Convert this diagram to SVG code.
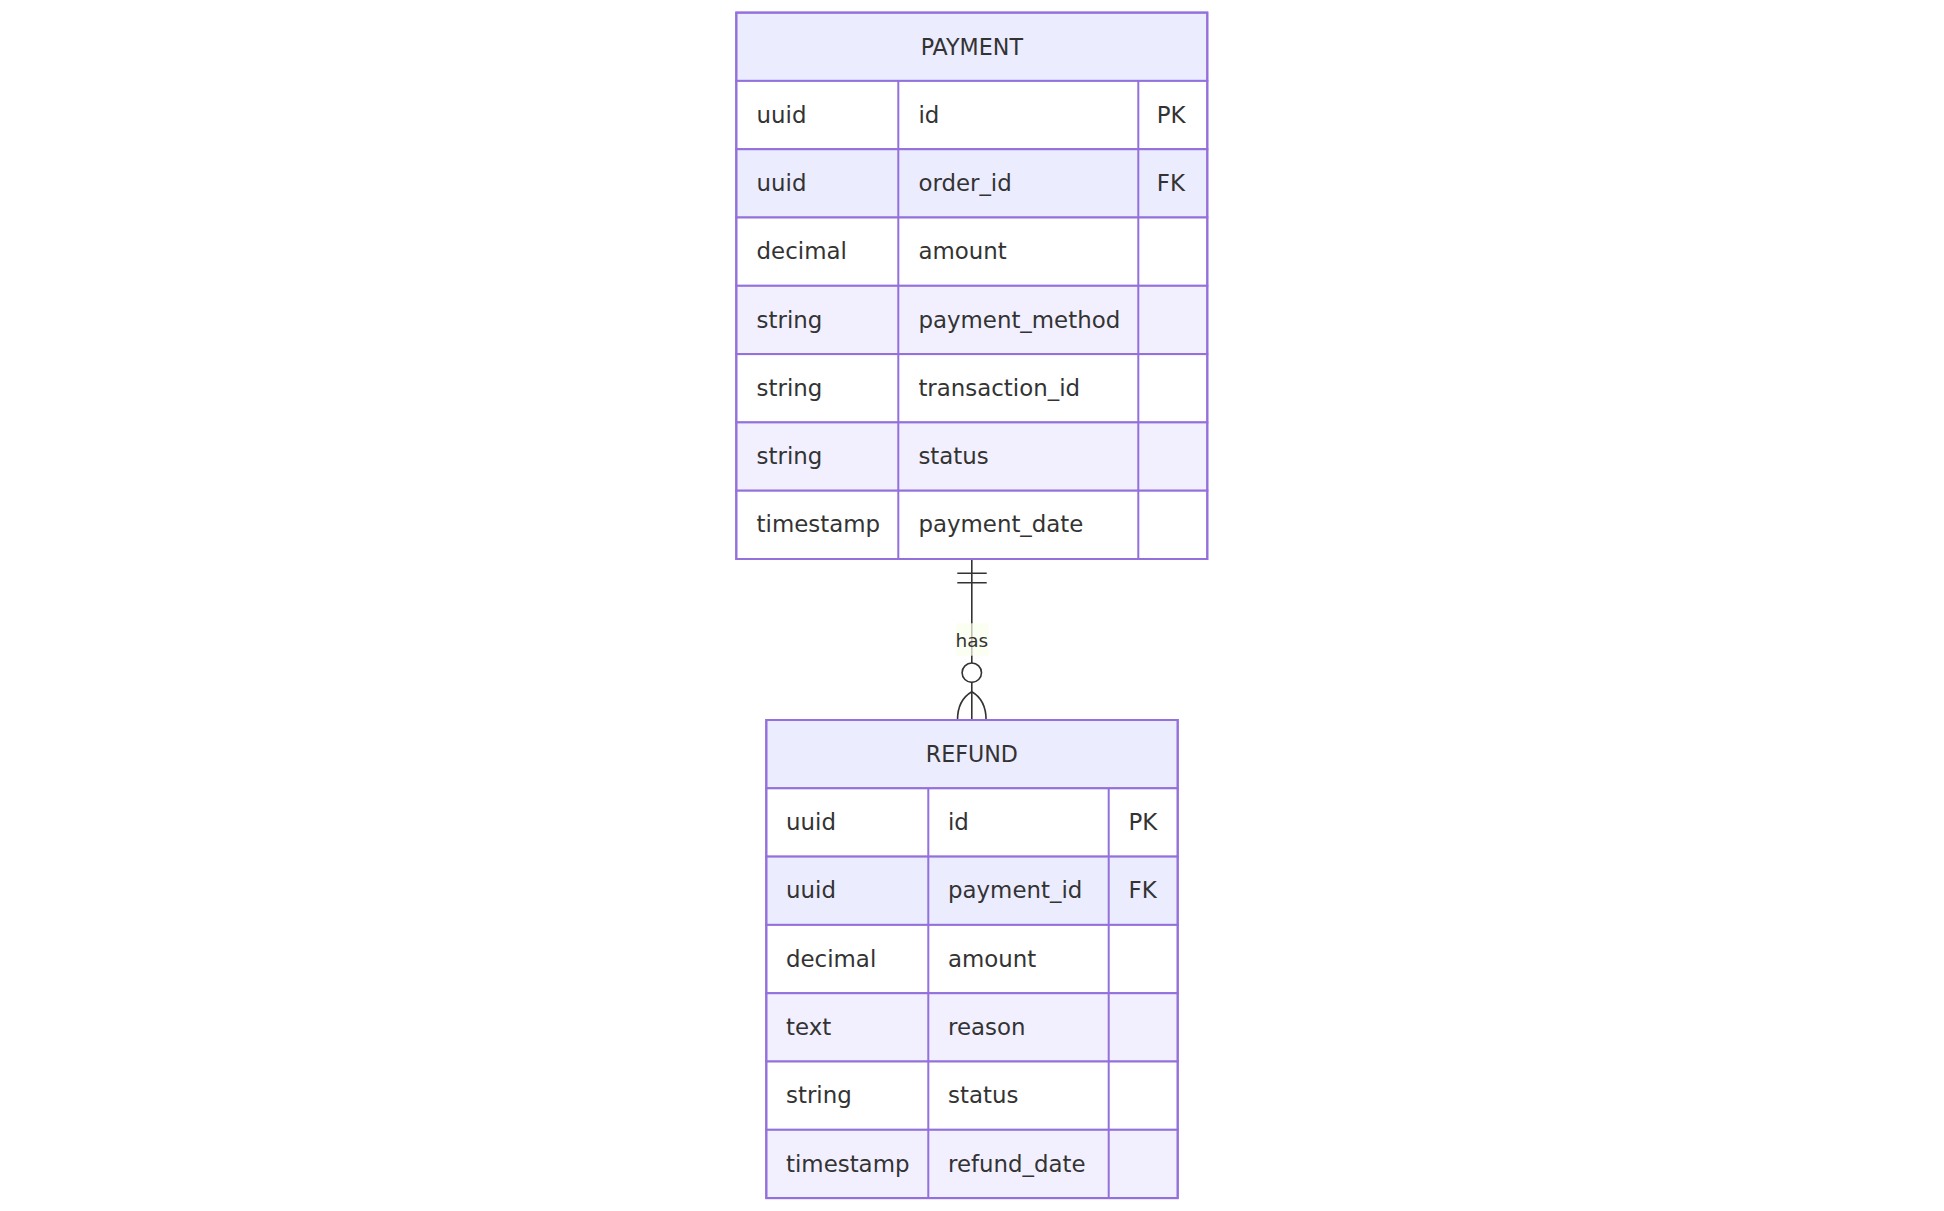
<svg xmlns="http://www.w3.org/2000/svg" width="1944" height="1211" viewBox="0 0 1944 1211">
<style>
.bg{fill:#ffffff}
.hdr{fill:#ECECFF;stroke:#9370DB;stroke-width:2}
.odd{fill:#ffffff;stroke:#9370DB;stroke-width:2}
.ev1{fill:#ECECFF;stroke:#9370DB;stroke-width:2}
.ev2{fill:#F2F0FF;stroke:#9370DB;stroke-width:2}
.div{stroke:#9370DB;stroke-width:2}
.frame{fill:none;stroke:#9370DB;stroke-width:2}
text{font-family:"DejaVu Sans","Liberation Sans",sans-serif;fill:#333333}
.t{font-size:22.9px}
.h{font-size:22.2px;text-anchor:middle}
.lbl{font-size:18.5px;text-anchor:middle}
.rel{stroke:#333333;stroke-width:1.6;fill:none}
.lblbox{fill:hsl(80,100%,96.27%);opacity:0.7}
</style>
<rect class="bg" x="0" y="0" width="1944" height="1211"/>

<g id="connectors">
  <path class="rel" d="M971.8,559 L971.8,720"/>
  <path class="rel" d="M957.3,573.3 L986.7,573.3 M957.3,582.7 L986.7,582.7"/>
  <circle cx="971.8" cy="672.7" r="9.7" fill="#ffffff" stroke="#333333" stroke-width="1.6"/>
  <path class="rel" d="M957.5,720 Q957.5,700 971.8,691.7 Q986.1,700 986.1,720"/>
  <rect class="lblbox" x="956" y="623.3" width="32.7" height="32.4"/>
  <text class="lbl" x="971.8" y="646.6">has</text>
</g>

<g id="PAYMENT">
  <rect class="hdr" x="736.3" y="12.6" width="471" height="68.3"/>
  <rect class="odd" x="736.3" y="80.9" width="471" height="68.3"/>
  <rect class="ev1" x="736.3" y="149.2" width="471" height="68.3"/>
  <rect class="odd" x="736.3" y="217.5" width="471" height="68.3"/>
  <rect class="ev2" x="736.3" y="285.8" width="471" height="68.3"/>
  <rect class="odd" x="736.3" y="354.1" width="471" height="68.3"/>
  <rect class="ev2" x="736.3" y="422.4" width="471" height="68.3"/>
  <rect class="odd" x="736.3" y="490.7" width="471" height="68.3"/>
  <path class="div" d="M898.3,80.9 L898.3,559 M1138.3,80.9 L1138.3,559"/>
  <rect class="frame" x="736.3" y="12.6" width="471" height="546.4"/>
  <text class="h" x="971.8" y="54.6">PAYMENT</text>
  <text class="t" x="756.6" y="122.6">uuid</text>
  <text class="t" x="918.4" y="122.6">id</text>
  <text class="t" x="1156.8" y="122.6">PK</text>
  <text class="t" x="756.6" y="190.9">uuid</text>
  <text class="t" x="918.4" y="190.9">order_id</text>
  <text class="t" x="1156.8" y="190.9">FK</text>
  <text class="t" x="756.6" y="259.2">decimal</text>
  <text class="t" x="918.4" y="259.2">amount</text>
  <text class="t" x="756.6" y="327.5">string</text>
  <text class="t" x="918.4" y="327.5">payment_method</text>
  <text class="t" x="756.6" y="395.8">string</text>
  <text class="t" x="918.4" y="395.8">transaction_id</text>
  <text class="t" x="756.6" y="464.1">string</text>
  <text class="t" x="918.4" y="464.1">status</text>
  <text class="t" x="756.6" y="532.4">timestamp</text>
  <text class="t" x="918.4" y="532.4">payment_date</text>
</g>

<g id="REFUND">
  <rect class="hdr" x="766.3" y="720" width="411.4" height="68.3"/>
  <rect class="odd" x="766.3" y="788.3" width="411.4" height="68.3"/>
  <rect class="ev1" x="766.3" y="856.6" width="411.4" height="68.3"/>
  <rect class="odd" x="766.3" y="924.9" width="411.4" height="68.3"/>
  <rect class="ev2" x="766.3" y="993.2" width="411.4" height="68.3"/>
  <rect class="odd" x="766.3" y="1061.5" width="411.4" height="68.3"/>
  <rect class="ev2" x="766.3" y="1129.8" width="411.4" height="68.3"/>
  <path class="div" d="M928.3,788.3 L928.3,1198.1 M1108.7,788.3 L1108.7,1198.1"/>
  <rect class="frame" x="766.3" y="720" width="411.4" height="478.1"/>
  <text class="h" x="971.8" y="762">REFUND</text>
  <text class="t" x="786" y="830">uuid</text>
  <text class="t" x="948" y="830">id</text>
  <text class="t" x="1128.5" y="830">PK</text>
  <text class="t" x="786" y="898.3">uuid</text>
  <text class="t" x="948" y="898.3">payment_id</text>
  <text class="t" x="1128.5" y="898.3">FK</text>
  <text class="t" x="786" y="966.6">decimal</text>
  <text class="t" x="948" y="966.6">amount</text>
  <text class="t" x="786" y="1034.9">text</text>
  <text class="t" x="948" y="1034.9">reason</text>
  <text class="t" x="786" y="1103.2">string</text>
  <text class="t" x="948" y="1103.2">status</text>
  <text class="t" x="786" y="1171.5">timestamp</text>
  <text class="t" x="948" y="1171.5">refund_date</text>
</g>
</svg>
